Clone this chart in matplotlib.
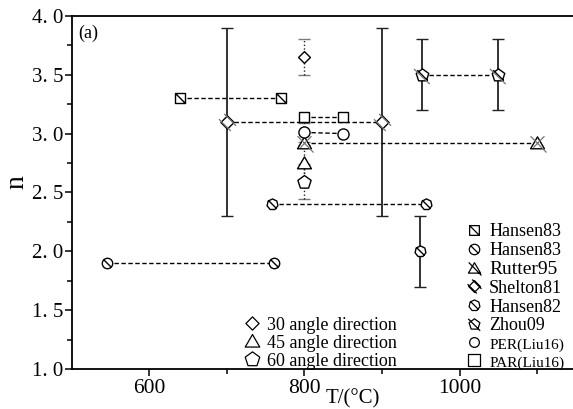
import numpy as np
import matplotlib
matplotlib.use('Agg')
import matplotlib.pyplot as plt
from matplotlib.path import Path
from matplotlib.lines import Line2D

# ---------------- data ----------------
hansen83_sq_T = [640, 770]
hansen83_sq_n = [3.30, 3.30]
hansen83_c_T = [546, 761]
hansen83_c_n = [1.90, 1.90]
rutter95_T = [800, 1100]
rutter95_n = [2.92, 2.92]
shelton81_T = [700, 900]
shelton81_n = [3.10, 3.10]
shelton81_err = [0.80, 0.80]
hansen82_T = [758, 956]
hansen82_n = [2.40, 2.40]
hansen82b_T = [949]
hansen82b_n = [2.00]
hansen82b_err = [0.30]
zhou09_T = [951, 1050]
zhou09_n = [3.50, 3.50]
zhou09_err = [0.30, 0.30]
per_T = [800, 850]
per_n = [3.01, 3.00]
per_err = [0.08, 0.0]
par_T = [800, 850]
par_n = [3.14, 3.14]
ang30_T = [800]
ang30_n = [3.65]
ang30_err = [0.15]
ang45_T = [800]
ang45_n = [2.75]
ang45_err = [0.15]
ang60_T = [800]
ang60_n = [2.59]
ang60_err = [0.15]

xtick_major = [600, 800, 1000]
xtick_major_labels = ['600', '800', '1000']
xtick_minor = [700, 900, 1100]
ytick_major = [1.0, 1.5, 2.0, 2.5, 3.0, 3.5, 4.0]

# ---------------- markers ----------------
M, L = Path.MOVETO, Path.LINETO

def poly_verts(n, rot=90.0):
    a = np.deg2rad(rot + 360.0 * np.arange(n) / n)
    return np.column_stack([np.cos(a), np.sin(a)])

def closed(verts):
    v = list(map(tuple, verts)) + [tuple(verts[0])]
    codes = [M] + [L] * (len(verts) - 1) + [Path.CLOSEPOLY]
    return Path(v, codes)

def seg(p, q):
    return Path([p, q], [M, L])

def compound(*paths):
    return Path.make_compound_path(*paths)

sq = closed(np.array([[-1, -1], [1, -1], [1, 1], [-1, 1]]))
diamond = closed(np.array([[0, 1], [1, 0], [0, -1], [-1, 0]]))
tri = closed(np.array([[0, 1], [-1.05, -0.8], [1.05, -0.8]]))
pent = closed(poly_verts(5))
hept = closed(poly_verts(7))
circ = Path.unit_circle()

m_sq_slash = compound(sq, seg((-1, 1), (1, -1)))
m_circ_slash = compound(circ, seg((-0.72, 0.72), (0.72, -0.72)))
m_hep_slash = compound(hept, seg((-0.75, 0.75), (0.75, -0.75)))
m_pent_slash = compound(pent, seg((-0.8, 0.8), (0.8, -0.8)))
# grey extended slashes (max abs = 1.3)
g_tri = compound(seg((-1.0, 1.05), (1.3, -1.3)), seg((1.0, 1.05), (-0.6, -0.6)))
g_dia = compound(seg((-1.3, 0.5), (0.5, -1.3)), seg((-0.5, 1.3), (1.3, -0.5)))
g_pent = seg((-1.3, 1.0), (1.1, -1.3))

plt.rcParams['font.family'] = ['Liberation Serif', 'DejaVu Serif']

fig = plt.figure(figsize=(5.73, 4.09), dpi=100)
ax = fig.add_axes([0.125, 0.098, 0.875, 0.863])

DASH = (0, (3.2, 1.8))

def marks(T, n, mk, size, z=5):
    ax.plot(T, n, linestyle='none', marker=mk, markersize=size,
            markerfacecolor='white', markeredgecolor='black',
            markeredgewidth=1.0, zorder=z)

def greys(T, n, mk, size):
    ax.plot(T, n, linestyle='none', marker=mk, markersize=size,
            markerfacecolor='none', markeredgecolor='#777777',
            markeredgewidth=0.9, zorder=6)

def dashed(T, n):
    ax.plot(T, n, linestyle=DASH, color='black', linewidth=1.0, zorder=2)

def ebar(T, n, e, dotted=False):
    c = ax.errorbar(T, n, yerr=e, fmt='none', ecolor='#222222',
                    elinewidth=1.0 if dotted else 1.3,
                    capsize=4, capthick=1.0, zorder=3)
    if dotted:
        for lc in c.lines[2]:
            lc.set_linestyle(':')
        for cap in c.lines[1]:
            cap.set_alpha(0.6)

# error bars
ebar(shelton81_T, shelton81_n, shelton81_err)
ebar(zhou09_T, zhou09_n, zhou09_err)
ebar(hansen82b_T, hansen82b_n, hansen82b_err)
ebar(ang30_T, ang30_n, ang30_err, dotted=True)
ebar(ang45_T, ang45_n, ang45_err, dotted=True)
ebar(ang60_T, ang60_n, ang60_err, dotted=True)
ebar(per_T[:1], per_n[:1], per_err[:1], dotted=True)

# connecting dashed lines
for T, n in [(hansen83_sq_T, hansen83_sq_n), (hansen83_c_T, hansen83_c_n),
             (rutter95_T, rutter95_n), (shelton81_T, shelton81_n),
             (hansen82_T, hansen82_n), (zhou09_T, zhou09_n),
             (per_T, per_n), (par_T, par_n)]:
    dashed(T, n)

# markers
marks(hansen83_sq_T, hansen83_sq_n, m_sq_slash, 7.2)
marks(hansen83_c_T, hansen83_c_n, m_circ_slash, 7.5)
marks(rutter95_T, rutter95_n, tri, 10)
greys(rutter95_T, rutter95_n, g_tri, 10 * 1.3)
marks(shelton81_T, shelton81_n, diamond, 9.5)
greys(shelton81_T, shelton81_n, g_dia, 9.5 * 1.3)
marks(hansen82_T, hansen82_n, m_hep_slash, 8)
marks(hansen82b_T, hansen82b_n, m_hep_slash, 8)
marks(zhou09_T, zhou09_n, m_pent_slash, 9.5)
greys(zhou09_T, zhou09_n, g_pent, 9.5 * 1.3)
marks(par_T, par_n, sq, 7.5)
marks(per_T, per_n, circ, 8)
marks(ang30_T, ang30_n, diamond, 8.5)
marks(ang45_T, ang45_n, tri, 10)
marks(ang60_T, ang60_n, pent, 10)

# axes
ax.set_xlim(500, 1146)
ax.set_ylim(1.0, 4.0)
ax.spines['right'].set_visible(False)
for s in ['left', 'bottom', 'top']:
    ax.spines[s].set_linewidth(1.3)
ax.set_xticks(xtick_major)
ax.set_xticklabels(xtick_major_labels)
ax.set_xticks(xtick_minor, minor=True)
ax.set_yticks(ytick_major)
ax.set_yticklabels([('%.1f' % v).replace('.', '. ') for v in ytick_major])
ax.set_yticks(np.arange(1.25, 4.0, 0.5), minor=True)
ax.tick_params(axis='both', which='major', direction='out', length=5, width=1.1)
ax.tick_params(axis='x', which='major', labelsize=15.5, pad=2)
ax.tick_params(axis='y', which='major', labelsize=15, pad=1)
ax.tick_params(axis='both', which='minor', direction='out', length=3.5, width=1.1)

ax.set_xlabel('T/(°C)', fontsize=15)
ax.xaxis.set_label_coords(0.56, -0.058)
ax.set_ylabel('n', fontsize=20)
ax.yaxis.set_label_coords(-0.085, 0.53)

ax.text(0.014, 0.952, '(a)', transform=ax.transAxes, fontsize=13,
        ha='left', va='center')

# legends
def h(mk, size):
    return Line2D([], [], linestyle='none', marker=mk, markersize=size,
                  markerfacecolor='white', markeredgecolor='black',
                  markeredgewidth=0.9)

right_handles = [h(m_sq_slash, 7), h(m_circ_slash, 7.5),
                 h(compound(tri, seg((-1.0, 1.05), (1.2, -1.2))), 10),
                 h(compound(diamond, seg((-1.2, 0.4), (0.4, -1.2)), seg((-0.4, 1.2), (1.2, -0.4))), 10),
                 h(m_hep_slash, 8), h(compound(pent, seg((-1.1, 1.0), (1.0, -1.1))), 9),
                 h(circ, 7), h(sq, 8)]
right_labels = ['Hansen83', 'Hansen83', 'Rutter95', 'Shelton81', 'Hansen82',
                'Zhou09', 'PER(Liu16)', 'PAR(Liu16)']
leg1 = ax.legend(right_handles, right_labels, loc='lower left',
                 bbox_to_anchor=(0.775, -0.012), frameon=False, fontsize=13,
                 handlelength=1.1, handletextpad=0.3, labelspacing=0.1,
                 borderaxespad=0.0, borderpad=0.2)
sizes = [13, 13, 14, 13, 13, 13, 11, 11]
for t, s in zip(leg1.get_texts(), sizes):
    t.set_fontsize(s)
ax.add_artist(leg1)

left_handles = [h(diamond, 9.5), h(tri, 10.5), h(pent, 11)]
left_labels = ['30 angle direction', '45 angle direction', '60 angle direction']
ax.legend(left_handles, left_labels, loc='lower left',
          bbox_to_anchor=(0.335, -0.012), frameon=False, fontsize=13,
          handlelength=1.0, handletextpad=0.3, labelspacing=0.05,
          borderaxespad=0.0, borderpad=0.2)

fig.savefig('out.png', dpi=100)
